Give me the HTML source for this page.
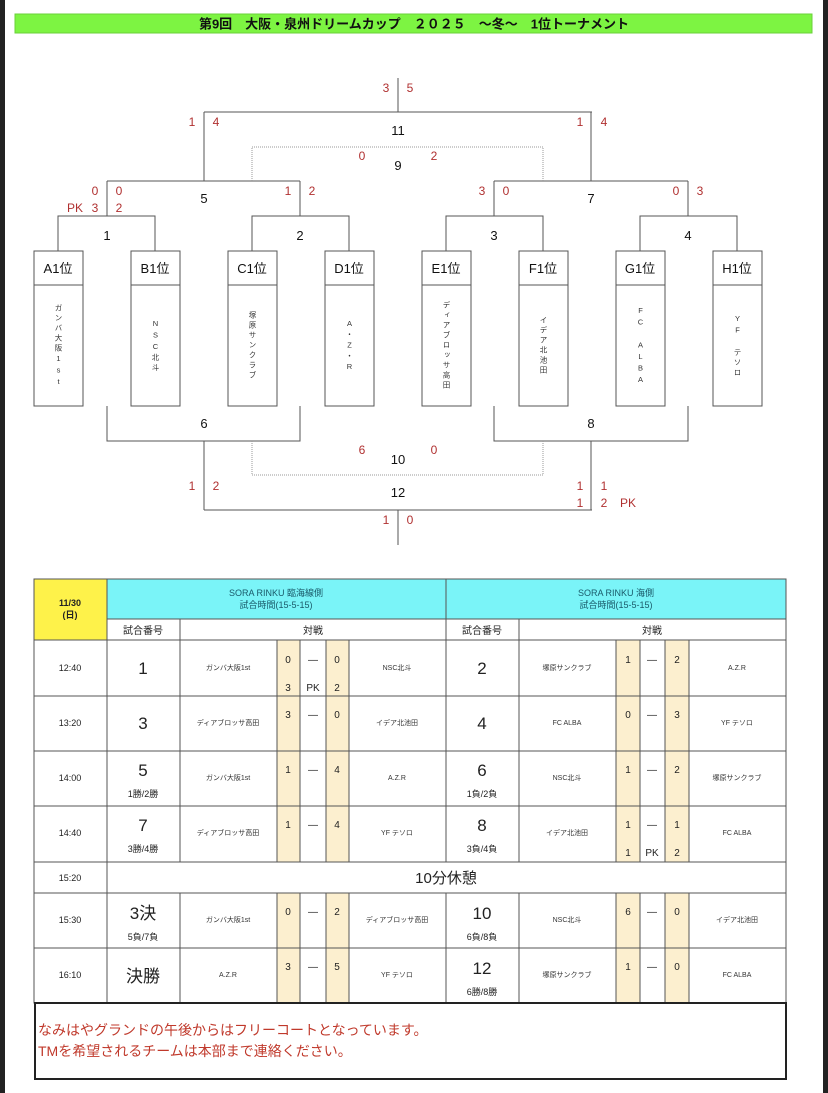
<!DOCTYPE html>
<html><head><meta charset="utf-8"><style>
body{margin:0;width:828px;height:1093px;background:#fff;position:relative;overflow:hidden;font-family:"Liberation Sans","Noto Sans CJK JP",sans-serif}
svg{position:absolute;left:0;top:0}
.v{position:absolute;top:286px;height:120px;width:49px;display:flex;align-items:center;justify-content:center}
.v span{writing-mode:vertical-rl;text-orientation:upright;font-size:7.5px;color:#333;letter-spacing:2.5px}
</style></head><body>
<svg width="828" height="1093" font-family="Liberation Sans, Noto Sans CJK JP, sans-serif">
<rect x="0" y="0" width="5" height="1093" fill="#222"/>
<rect x="823" y="0" width="5" height="1093" fill="#222"/>
<rect x="15" y="14" width="797" height="19" fill="#7df442" stroke="#6ad03a" stroke-width="1"/>
<text x="414" y="28.5" text-anchor="middle" font-size="13" font-weight="bold" fill="#111">第9回　大阪・泉州ドリームカップ　２０２５　～冬～　1位トーナメント</text>
<g stroke="#555" stroke-width="1" fill="none">
<rect x="34" y="251" width="49" height="155"/><line x1="34" y1="285" x2="83" y2="285"/>
<rect x="131" y="251" width="49" height="155"/><line x1="131" y1="285" x2="180" y2="285"/>
<rect x="228" y="251" width="49" height="155"/><line x1="228" y1="285" x2="277" y2="285"/>
<rect x="325" y="251" width="49" height="155"/><line x1="325" y1="285" x2="374" y2="285"/>
<rect x="422" y="251" width="49" height="155"/><line x1="422" y1="285" x2="471" y2="285"/>
<rect x="519" y="251" width="49" height="155"/><line x1="519" y1="285" x2="568" y2="285"/>
<rect x="616" y="251" width="49" height="155"/><line x1="616" y1="285" x2="665" y2="285"/>
<rect x="713" y="251" width="49" height="155"/><line x1="713" y1="285" x2="762" y2="285"/>
<path d="M58 251V216H155V251M107 216V181M252 251V216H349V251M300 216V181M107 181H300M204 181V112"/>
<path d="M446 251V216H543V251M494 216V181M640 251V216H737V251M688 216V181M494 181H688M591 181V112"/>
<path d="M204 112H592M398 112V78"/>
<path d="M107 406V441H300V406M204 441V510M494 406V441H688V406M591 441V510M204 510H592M398 510V545"/>
</g>
<g stroke="#999" stroke-width="1" fill="none" stroke-dasharray="1,1">
<path d="M252 181V147H543V181"/>
<path d="M252 441V475H543V441"/>
</g>
<g font-size="13" fill="#111" text-anchor="middle">
<text x="58" y="273">A1位</text><text x="155" y="273">B1位</text><text x="252" y="273">C1位</text><text x="349" y="273">D1位</text>
<text x="446" y="273">E1位</text><text x="543" y="273">F1位</text><text x="640" y="273">G1位</text><text x="737" y="273">H1位</text>
<text x="107" y="240">1</text><text x="300" y="240">2</text><text x="494" y="240">3</text><text x="688" y="240">4</text>
<text x="204" y="203">5</text><text x="591" y="203">7</text><text x="398" y="170">9</text><text x="398" y="135">11</text>
<text x="204" y="428">6</text><text x="591" y="428">8</text><text x="398" y="464">10</text><text x="398" y="497">12</text>
</g>
<g font-size="12" fill="#b03030" text-anchor="middle">
<text x="386" y="92">3</text><text x="410" y="92">5</text>
<text x="192" y="126">1</text><text x="216" y="126">4</text><text x="580" y="126">1</text><text x="604" y="126">4</text>
<text x="362" y="160">0</text><text x="434" y="160">2</text>
<text x="95" y="195">0</text><text x="119" y="195">0</text><text x="75" y="212">PK</text><text x="95" y="212">3</text><text x="119" y="212">2</text>
<text x="288" y="195">1</text><text x="312" y="195">2</text>
<text x="482" y="195">3</text><text x="506" y="195">0</text><text x="676" y="195">0</text><text x="700" y="195">3</text>
<text x="362" y="454">6</text><text x="434" y="454">0</text>
<text x="192" y="490">1</text><text x="216" y="490">2</text>
<text x="580" y="490">1</text><text x="604" y="490">1</text><text x="580" y="507">1</text><text x="604" y="507">2</text><text x="628" y="507">PK</text>
<text x="386" y="524">1</text><text x="410" y="524">0</text>
</g>
<rect x="34" y="579" width="73" height="61" fill="#fef24a"/>
<rect x="107" y="579" width="679" height="40" fill="#7af4f8"/>
<g fill="#fcefcf">
<rect x="277" y="640" width="23" height="222"/><rect x="326" y="640" width="23" height="222"/>
<rect x="616" y="640" width="24" height="222"/><rect x="665" y="640" width="24" height="222"/>
<rect x="277" y="893" width="23" height="110"/><rect x="326" y="893" width="23" height="110"/>
<rect x="616" y="893" width="24" height="110"/><rect x="665" y="893" width="24" height="110"/>
</g>
<g stroke="#555" stroke-width="1" fill="none">
<rect x="34" y="579" width="752" height="424"/>
<line x1="107" y1="579" x2="107" y2="1003"/>
<line x1="446" y1="579" x2="446" y2="862"/><line x1="446" y1="893" x2="446" y2="1003"/>
<line x1="107" y1="619" x2="786" y2="619"/>
<line x1="34" y1="640" x2="786" y2="640"/>
<line x1="180" y1="619" x2="180" y2="862"/><line x1="180" y1="893" x2="180" y2="1003"/>
<line x1="519" y1="619" x2="519" y2="862"/><line x1="519" y1="893" x2="519" y2="1003"/>
<path d="M277 640V862M300 640V862M326 640V862M349 640V862M616 640V862M640 640V862M665 640V862M689 640V862"/>
<path d="M277 893V1003M300 893V1003M326 893V1003M349 893V1003M616 893V1003M640 893V1003M665 893V1003M689 893V1003"/>
<path d="M34 696H786M34 751H786M34 806H786M34 862H786M34 893H786M34 948H786"/>
</g>
<rect x="35" y="1003" width="751" height="76" fill="none" stroke="#222" stroke-width="2"/>
<g text-anchor="middle" fill="#222">
<text x="70" y="606" font-size="9" font-weight="bold">11/30</text><text x="70" y="618" font-size="9" font-weight="bold">(日)</text>
<text x="276" y="596" font-size="9" fill="#1a5a6a">SORA RINKU 臨海線側</text><text x="276" y="608" font-size="9" fill="#1a5a6a">試合時間(15-5-15)</text>
<text x="616" y="596" font-size="9" fill="#1a5a6a">SORA RINKU 海側</text><text x="616" y="608" font-size="9" fill="#1a5a6a">試合時間(15-5-15)</text>
<text x="143" y="634" font-size="10">試合番号</text><text x="313" y="634" font-size="10">対戦</text>
<text x="482" y="634" font-size="10">試合番号</text><text x="652" y="634" font-size="10">対戦</text>
</g>
<g text-anchor="middle" fill="#222" font-size="9">
<text x="70" y="671">12:40</text><text x="70" y="726">13:20</text><text x="70" y="781">14:00</text><text x="70" y="836">14:40</text><text x="70" y="881">15:20</text><text x="70" y="923">15:30</text><text x="70" y="978">16:10</text>
</g>
<g text-anchor="middle" fill="#222" font-size="17">
<text x="143" y="674">1</text><text x="143" y="729">3</text><text x="143" y="776">5</text><text x="143" y="831">7</text><text x="143" y="919">3決</text><text x="143" y="982">決勝</text>
<text x="482" y="674">2</text><text x="482" y="729">4</text><text x="482" y="776">6</text><text x="482" y="831">8</text><text x="482" y="919">10</text><text x="482" y="974">12</text>
<text x="446" y="883" font-size="15">10分休憩</text>
</g>
<g text-anchor="middle" fill="#222" font-size="9">
<text x="143" y="797">1勝/2勝</text><text x="143" y="852">3勝/4勝</text><text x="143" y="940">5負/7負</text>
<text x="482" y="797">1負/2負</text><text x="482" y="852">3負/4負</text><text x="482" y="940">6負/8負</text><text x="482" y="995">6勝/8勝</text>
</g>
<g text-anchor="middle" fill="#333" font-size="7">
<text x="228" y="670">ガンバ大阪1st</text><text x="397" y="670">NSC北斗</text><text x="567" y="670">塚原サンクラブ</text><text x="737" y="670">A.Z.R</text>
<text x="228" y="725">ディアブロッサ高田</text><text x="397" y="725">イデア北池田</text><text x="567" y="725">FC ALBA</text><text x="737" y="725">YF テソロ</text>
<text x="228" y="780">ガンバ大阪1st</text><text x="397" y="780">A.Z.R</text><text x="567" y="780">NSC北斗</text><text x="737" y="780">塚原サンクラブ</text>
<text x="228" y="835">ディアブロッサ高田</text><text x="397" y="835">YF テソロ</text><text x="567" y="835">イデア北池田</text><text x="737" y="835">FC ALBA</text>
<text x="228" y="922">ガンバ大阪1st</text><text x="397" y="922">ディアブロッサ高田</text><text x="567" y="922">NSC北斗</text><text x="737" y="922">イデア北池田</text>
<text x="228" y="977">A.Z.R</text><text x="397" y="977">YF テソロ</text><text x="567" y="977">塚原サンクラブ</text><text x="737" y="977">FC ALBA</text>
</g>
<g text-anchor="middle" fill="#222" font-size="10">
<text x="288" y="663">0</text><text x="313" y="663">—</text><text x="337" y="663">0</text>
<text x="288" y="691">3</text><text x="313" y="691">PK</text><text x="337" y="691">2</text>
<text x="628" y="663">1</text><text x="652" y="663">—</text><text x="677" y="663">2</text>
<text x="288" y="718">3</text><text x="313" y="718">—</text><text x="337" y="718">0</text>
<text x="628" y="718">0</text><text x="652" y="718">—</text><text x="677" y="718">3</text>
<text x="288" y="773">1</text><text x="313" y="773">—</text><text x="337" y="773">4</text>
<text x="628" y="773">1</text><text x="652" y="773">—</text><text x="677" y="773">2</text>
<text x="288" y="828">1</text><text x="313" y="828">—</text><text x="337" y="828">4</text>
<text x="628" y="828">1</text><text x="652" y="828">—</text><text x="677" y="828">1</text>
<text x="628" y="856">1</text><text x="652" y="856">PK</text><text x="677" y="856">2</text>
<text x="288" y="915">0</text><text x="313" y="915">—</text><text x="337" y="915">2</text>
<text x="628" y="915">6</text><text x="652" y="915">—</text><text x="677" y="915">0</text>
<text x="288" y="970">3</text><text x="313" y="970">—</text><text x="337" y="970">5</text>
<text x="628" y="970">1</text><text x="652" y="970">—</text><text x="677" y="970">0</text>
</g>
<g fill="#c0392b" font-size="14">
<text x="38" y="1035">なみはやグランドの午後からはフリーコートとなっています。</text>
<text x="38" y="1056">TMを希望されるチームは本部まで連絡ください。</text>
</g>
</svg>
<div class="v" style="left:34px"><span>ガンバ大阪1st</span></div>
<div class="v" style="left:131px"><span>NSC北斗</span></div>
<div class="v" style="left:228px"><span>塚原サンクラブ</span></div>
<div class="v" style="left:325px"><span>A・Z・R</span></div>
<div class="v" style="left:422px"><span>ディアブロッサ高田</span></div>
<div class="v" style="left:519px"><span>イデア北池田</span></div>
<div class="v" style="left:616px"><span>FC ALBA</span></div>
<div class="v" style="left:713px"><span>YF テソロ</span></div>
</body></html>
